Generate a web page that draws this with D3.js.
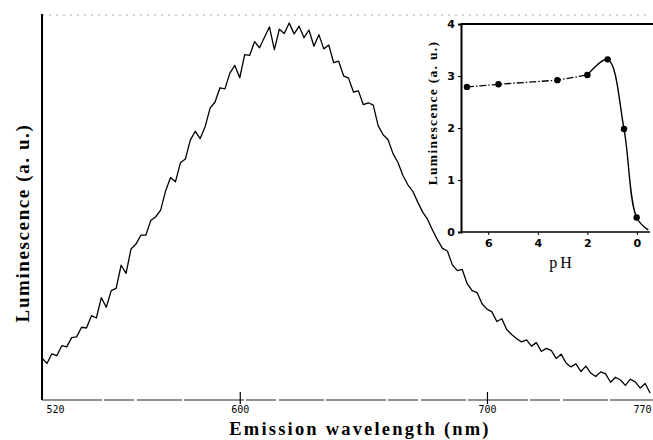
<!DOCTYPE html>
<html lang="en">
<head>
<meta charset="UTF-8">
<script src="https://d3js.org/d3.v7.min.js"></script>
<title>Emission spectrum</title>
<style>
  body { margin: 0; background: #fff; }
  text { fill: #000; }
</style>
</head>
<body>
<div id="vis"></div>
<script>
    // main spectrum: wavelength (nm) every 2 nm, luminescence (a. u., 0-100)
    var wlStart = 520, wlStep = 2;
    var lum = [
        10.9, 9.5, 12.0, 11.5, 14.1, 13.8, 16.2, 16.4, 18.9, 18.7,
        21.9, 21.3, 26.6, 24.1, 28.4, 29.0, 35.0, 32.9, 39.2, 40.5,
        42.8, 42.8, 46.6, 47.6, 49.3, 54.3, 57.8, 56.7, 61.6, 62.6,
        67.5, 69.8, 67.9, 71.0, 75.8, 77.4, 81.1, 80.8, 84.9, 86.9,
        83.7, 89.7, 89.5, 93.1, 91.5, 94.2, 96.9, 91.0, 96.3, 95.2,
        97.9, 95.1, 97.1, 94.1, 96.1, 91.9, 94.9, 91.2, 92.2, 87.6,
        88.0, 84.2, 83.6, 80.0, 80.3, 76.7, 77.2, 76.6, 71.2, 68.9,
        67.6, 64.0, 61.7, 58.3, 55.9, 54.2, 51.4, 48.8, 46.9, 44.1,
        41.6, 39.4, 38.7, 35.1, 33.6, 33.9, 30.2, 28.4, 27.9, 25.0,
        23.6, 22.9, 20.4, 21.1, 18.3, 17.0, 15.9, 15.1, 15.6, 14.0,
        14.9, 12.6, 13.4, 12.9, 10.8, 11.9, 9.6, 8.6, 9.4, 7.4,
        8.8, 7.0, 6.1, 7.3, 6.8, 4.6, 5.9, 5.2, 3.8, 5.4,
        4.7, 3.1, 4.3, 1.8
    ];
    var wlTicks = [520, 600, 700, 770];

    // inset: luminescence vs pH
    var pH = [6.86, 5.59, 3.21, 2.0, 1.18, 0.52, 0.01];
    var pHLum = [2.79, 2.84, 2.92, 3.02, 3.32, 1.98, 0.28];
    var tailPH = [-0.46], tailLum = [0.04];   // where the drawn curve ends
    var pHTicks = [6, 4, 2, 0];
    var insetYTicks = [0, 1, 2, 3, 4];

    var width = 653, height = 440,
        serif = "'Liberation Serif', 'DejaVu Serif', serif",
        svg = d3.select("#vis").append("svg").attr("width", width).attr("height", height);

    var spectrum = lum.map(function(v, i){ return [wlStart + i * wlStep, v]; });

    var x = d3.scaleLinear().domain([520, 770]).range([42, 660]),
        y = d3.scaleLinear().domain([0, 100]).range([400, 15]);

    // frame: faint dotted top, solid left
    svg.append("line").attr("x1", 42).attr("x2", 650).attr("y1", 15).attr("y2", 15)
        .style("stroke", "#aaa").style("stroke-width", 1).style("stroke-dasharray", "2,5");
    svg.append("line").attr("x1", 42).attr("x2", 42).attr("y1", 14).attr("y2", 400)
        .style("stroke", "#000").style("stroke-width", 2);

    var xAxis = svg.append("g").attr("transform", "translate(0,400)")
        .call(d3.axisBottom(x).tickValues(wlTicks).tickSize(4).tickPadding(2));
    xAxis.select(".domain").attr("d", "M42,0H653")
        .style("stroke", "#222").style("stroke-width", 1.2).style("stroke-dasharray", "60,2,30,3,45,2");
    xAxis.selectAll(".tick line").attr("y1", -8).style("stroke-width", 1.2)
        .style("opacity", function(d){ return (d === 600 || d === 700) ? 1 : 0; });
    xAxis.selectAll(".tick text")
        .style("font-family", "'DejaVu Sans Mono', monospace").style("font-size", "10px")
        .attr("dx", function(d){ return d === 520 ? 13 : (d === 770 ? -18 : 0); });

    svg.append("path").datum(spectrum)
        .attr("d", d3.line().x(function(d){ return x(d[0]); }).y(function(d){ return y(d[1]); }))
        .style("fill", "none").style("stroke", "#000").style("stroke-width", 1.3)
        .style("stroke-linejoin", "round");

    svg.append("text").attr("transform", "translate(29,223) rotate(-90)")
        .attr("text-anchor", "middle").style("font-family", serif)
        .style("font-weight", "bold").style("font-size", "19px").style("letter-spacing", "1.6px")
        .text("Luminescence (a. u.)");
    svg.append("text").attr("x", 360).attr("y", 435)
        .attr("text-anchor", "middle").style("font-family", serif)
        .style("font-weight", "bold").style("font-size", "18.5px").style("letter-spacing", "2.2px")
        .text("Emission wavelength (nm)");

    // inset
    var ix = d3.scaleLinear().domain([7.1, -0.65]).range([461, 653]),
        iy = d3.scaleLinear().domain([0, 4]).range([232, 24]);

    svg.append("line").attr("x1", 461).attr("x2", 653).attr("y1", iy(4)).attr("y2", iy(4))
        .style("stroke", "#000").style("stroke-width", 2);

    var iyAxis = svg.append("g").attr("transform", "translate(461,0)")
        .call(d3.axisLeft(iy).tickValues(insetYTicks).tickFormat(d3.format("d")).tickSize(3).tickPadding(3));
    iyAxis.select(".domain").style("stroke-width", 2);
    var ixAxis = svg.append("g").attr("transform", "translate(0,232)")
        .call(d3.axisBottom(ix).tickValues(pHTicks).tickSize(3).tickPadding(4));
    ixAxis.select(".domain").attr("d", "M461,0H650").style("stroke-width", 1.6);
    [iyAxis, ixAxis].forEach(function(a){
        a.selectAll(".tick text").style("font-family", "'DejaVu Sans', sans-serif")
            .style("font-weight", "bold").style("font-size", "11px");
    });

    var pts = pH.map(function(p, i){ return [p, pHLum[i]]; }),
        flat = pts.slice(0, 4),
        steep = pts.slice(3).concat(tailPH.map(function(p, i){ return [p, tailLum[i]]; }));

    var iline = d3.line().x(function(d){ return ix(d[0]); }).y(function(d){ return iy(d[1]); });
    svg.append("path").datum(flat).attr("d", iline)
        .style("fill", "none").style("stroke", "#000").style("stroke-width", 1.3)
        .style("stroke-dasharray", "7,2,1.5,2");
    svg.append("path").datum(steep).attr("d", iline.curve(d3.curveCatmullRom.alpha(0.5)))
        .style("fill", "none").style("stroke", "#000").style("stroke-width", 1.4);

    svg.selectAll("circle.pt").data(pts).enter().append("circle").attr("class", "pt")
        .attr("cx", function(d){ return ix(d[0]); }).attr("cy", function(d){ return iy(d[1]); })
        .attr("r", 3.2).style("fill", "#000");

    svg.append("text").attr("transform", "translate(437,113) rotate(-90)")
        .attr("text-anchor", "middle").style("font-family", serif)
        .style("font-weight", "bold").style("font-size", "13.5px").style("letter-spacing", "1.3px")
        .text("Luminescence (a. u.)");
    svg.append("text").attr("x", 562).attr("y", 268)
        .attr("text-anchor", "middle").style("font-family", serif)
        .style("font-size", "16px").style("letter-spacing", "3px")
        .text("pH");
</script>
</body>
</html>
